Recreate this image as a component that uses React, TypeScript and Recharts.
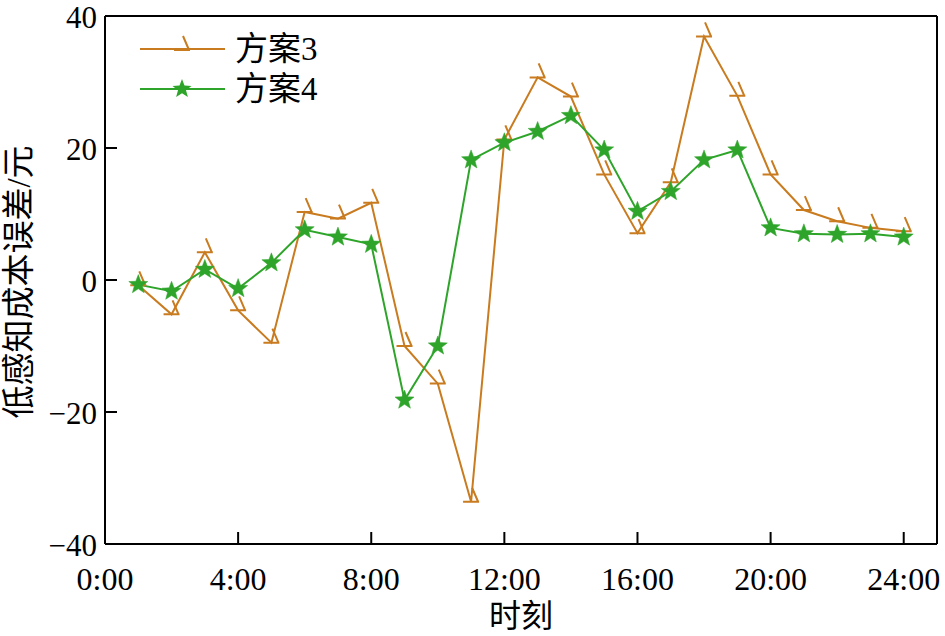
import React from 'react';
import { LineChart, Line, XAxis, YAxis, Legend, ReferenceLine } from 'recharts';

// 时刻 (h) and the two plans' cost errors
const hours = [1, 2, 3, 4, 5, 6, 7, 8, 9, 10, 11, 12, 13, 14, 15, 16, 17, 18, 19, 20, 21, 22, 23, 24];
const plan3 = [-0.8, -5.2, 4.2, -4.6, -9.5, 10.3, 9.3, 11.7, -10.0, -15.7, -33.6, 21.3, 30.7, 27.8, 16.0, 7.1, 14.8, 36.9, 27.9, 16.0, 10.6, 8.9, 7.9, 7.4];
const plan4 = [-0.7, -1.7, 1.6, -1.3, 2.6, 7.6, 6.5, 5.4, -18.2, -10.0, 18.2, 20.8, 22.5, 24.9, 19.7, 10.4, 13.4, 18.2, 19.7, 7.9, 7.0, 6.9, 7.0, 6.5];
const xTicks = [0, 4, 8, 12, 16, 20, 24];
const yTicks = [-40, -20, 0, 20, 40];
const seriesNames = ['方案3', '方案4'];

const data = hours.map((h, i) => ({ h, p3: plan3[i], p4: plan4[i] }));

const ORANGE = '#c97b1f';
const GREEN = '#2ea52a';
const FONT = '"Liberation Serif", "Times New Roman", "DejaVu Serif", "Noto Sans CJK SC", serif';

const starPath = (cx: number, cy: number, ro = 10, ri = 4.2) => {
    let d = '';
    for (let i = 0; i < 10; i++) {
        const r = i % 2 === 0 ? ro : ri;
        const a = (-90 + i * 36) * Math.PI / 180;
        d += (i === 0 ? 'M' : 'L') + (cx + r * Math.cos(a)).toFixed(2) + ',' + (cy + r * Math.sin(a)).toFixed(2);
    }
    return d + 'Z';
};

const arrowPath = (cx: number, cy: number) =>
    `M${cx - 8},${cy}H${cx + 8}M${cx + 7},${cy}L${cx + 1},${cy - 14}`;

const ArrowDot = (props: any) => {
    const { cx, cy, index } = props;
    if (cx == null || cy == null) return null;
    return <path key={`a-${index}`} d={arrowPath(cx, cy)} stroke={ORANGE} strokeWidth={2} fill="none" />;
};

const StarDot = (props: any) => {
    const { cx, cy, index } = props;
    if (cx == null || cy == null) return null;
    return <path key={`s-${index}`} d={starPath(cx, cy)} fill={GREEN} stroke={GREEN} strokeWidth={0.5} />;
};

const XTick = (props: any) => {
    const { x, y, payload } = props;
    return (
        <g>
            <line x1={x} y1={y} x2={x} y2={y - 12} stroke="#000" strokeWidth={2} />
            <text x={x} y={y + 46} textAnchor="middle" style={{ fontSize: 32, fontFamily: FONT }} fill="#000">
                {`${payload.value}:00`}
            </text>
        </g>
    );
};

const YTick = (props: any) => {
    const { x, y, payload } = props;
    const v = payload.value;
    const label = v < 0 ? `\u2212${Math.abs(v)}` : `${v}`;
    return (
        <g>
            <line x1={x} y1={y} x2={x + 12} y2={y} stroke="#000" strokeWidth={2} />
            <text x={x - 8} y={y + 12} textAnchor="end" style={{ fontSize: 31, fontFamily: FONT }} fill="#000">
                {label}
            </text>
        </g>
    );
};

const LegendBox = () => (
    <div style={{ fontFamily: FONT, fontSize: 33, color: '#000' }}>
        {seriesNames.map((name, i) => (
            <div key={name} style={{ display: 'flex', alignItems: 'center', height: 40 }}>
                <svg width={85} height={40} style={{ display: 'block' }}>
                    <line x1={0} y1={20} x2={85} y2={20} stroke={i === 0 ? ORANGE : GREEN} strokeWidth={2} />
                    {i === 0
                        ? <path d={arrowPath(42, 21)} stroke={ORANGE} strokeWidth={2} fill="none" />
                        : <path d={starPath(42, 20)} fill={GREEN} />}
                </svg>
                <span style={{ marginLeft: 10, lineHeight: '40px' }}>{name}</span>
            </div>
        ))}
    </div>
);

export default function App() {
    return (
        <div style={{ position: 'absolute', left: 0, top: 0, width: 945, height: 636, background: '#fff' }}>
            <LineChart width={945} height={636} data={data} margin={{ top: 16, right: 8, bottom: 42, left: 45 }}>
                <XAxis
                    dataKey="h"
                    type="number"
                    domain={[0, 25]}
                    ticks={xTicks}
                    interval={0}
                    height={50}
                    tickSize={0}
                    tickMargin={0}
                    tickLine={false}
                    axisLine={{ stroke: '#000', strokeWidth: 2 }}
                    tick={<XTick />}
                    label={{
                        content: () => (
                            <text x={521} y={627} textAnchor="middle" style={{ fontSize: 32, fontFamily: FONT }} fill="#000">时刻</text>
                        ),
                    }}
                />
                <YAxis
                    type="number"
                    domain={[-40, 40]}
                    ticks={yTicks}
                    interval={0}
                    width={60}
                    tickSize={0}
                    tickMargin={0}
                    tickLine={false}
                    axisLine={{ stroke: '#000', strokeWidth: 2 }}
                    tick={<YTick />}
                    label={{
                        content: () => (
                            <text x={30} y={282} transform="rotate(-90 30 282)" textAnchor="middle" style={{ fontSize: 33, fontFamily: FONT }} fill="#000">
                                低感知成本误差/元
                            </text>
                        ),
                    }}
                />
                <ReferenceLine y={40} stroke="#000" strokeWidth={2} />
                <ReferenceLine x={25} stroke="#000" strokeWidth={2} />
                <Legend
                    layout="vertical"
                    align="center"
                    verticalAlign="middle"
                    content={<LegendBox />}
                    wrapperStyle={{ left: 140, top: 29, width: 220 }}
                />
                <Line
                    type="linear"
                    dataKey="p3"
                    name={seriesNames[0]}
                    stroke={ORANGE}
                    strokeWidth={2}
                    dot={<ArrowDot />}
                    activeDot={false}
                    isAnimationActive={false}
                />
                <Line
                    type="linear"
                    dataKey="p4"
                    name={seriesNames[1]}
                    stroke={GREEN}
                    strokeWidth={2}
                    dot={<StarDot />}
                    activeDot={false}
                    isAnimationActive={false}
                />
            </LineChart>
        </div>
    );
}
